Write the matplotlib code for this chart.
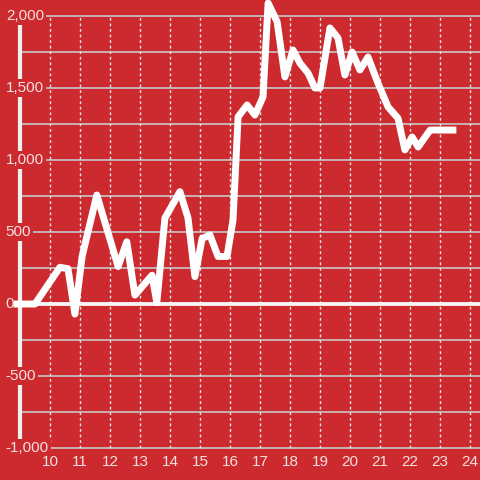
import matplotlib.pyplot as plt
import matplotlib.transforms as mtransforms

# series (x in hours, y in units)
hours = [8.9, 9.5, 10.33, 10.6, 10.83, 11.07, 11.56, 12.27, 12.56, 12.83,
         13.4, 13.56, 13.83, 14.33, 14.6, 14.83, 15.07, 15.33, 15.6, 15.9,
         16.1, 16.27, 16.57, 16.83, 17.1, 17.27, 17.57, 17.83, 18.1, 18.33,
         18.6, 18.83, 19.0, 19.33, 19.6, 19.83, 20.07, 20.33, 20.6, 20.93,
         21.27, 21.6, 21.83, 22.07, 22.27, 22.67, 23.43]
values = [0, 0, 255, 245, -70, 330, 757, 260, 432, 62,
          200, 10, 597, 780, 597, 190, 455, 480, 330, 330,
          583, 1300, 1382, 1312, 1438, 2090, 1960, 1577, 1764, 1673,
          1604, 1500, 1500, 1917, 1847, 1590, 1750, 1625, 1715, 1535,
          1368, 1290, 1070, 1160, 1090, 1208, 1208]

x_ticks = list(range(10, 25))
y_ticks = [-1000, -500, 0, 500, 1000, 1500, 2000]
y_grid = [-1000, -750, -500, -250, 250, 500, 750, 1000, 1250, 1500, 1750, 2000]

bg = '#cc2a2f'
txt = '#f5e1e1'

plt.rcParams['font.family'] = ['Liberation Sans', 'DejaVu Sans']

fig = plt.figure(figsize=(4.8, 4.8), dpi=100, facecolor=bg)
ax = fig.add_axes([0, 0, 1, 1])
ax.set_facecolor(bg)
ax.set_xlim(8.333, 24.333)
ax.set_ylim(-1222, 2111)
ax.axis('off')

# grid
ax.hlines(y_grid, 8.93, 24.4, color='#c8c8c8', lw=1.2, zorder=1)
ax.vlines(x_ticks, -1000, 2000, color='#e6e6e6', lw=1, linestyles=(0, (2, 2)), zorder=1)

# left spine and zero line
ax.vlines(9.0, -1010, 1945, color='#f0f0f0', lw=3, zorder=2)
ax.hlines(0, 8.93, 24.4, color='#f5f5f5', lw=2.8, zorder=2)

# y labels sit over the spine
trans = mtransforms.blended_transform_factory(ax.transAxes, ax.transData)
for v in y_ticks:
    ax.text(0.012, v, f'{v:,}', transform=trans, ha='left', va='center',
            fontsize=11, color=txt, zorder=3,
            bbox=dict(facecolor=bg, edgecolor='none', pad=1.5))

for h in x_ticks:
    ax.text(h, -1097, str(h), ha='center', va='center', fontsize=11, color=txt, zorder=3)

ax.plot(hours, values, color='white', lw=5, solid_joinstyle='round', zorder=4)

fig.savefig('out.png', dpi=100, facecolor=bg)
